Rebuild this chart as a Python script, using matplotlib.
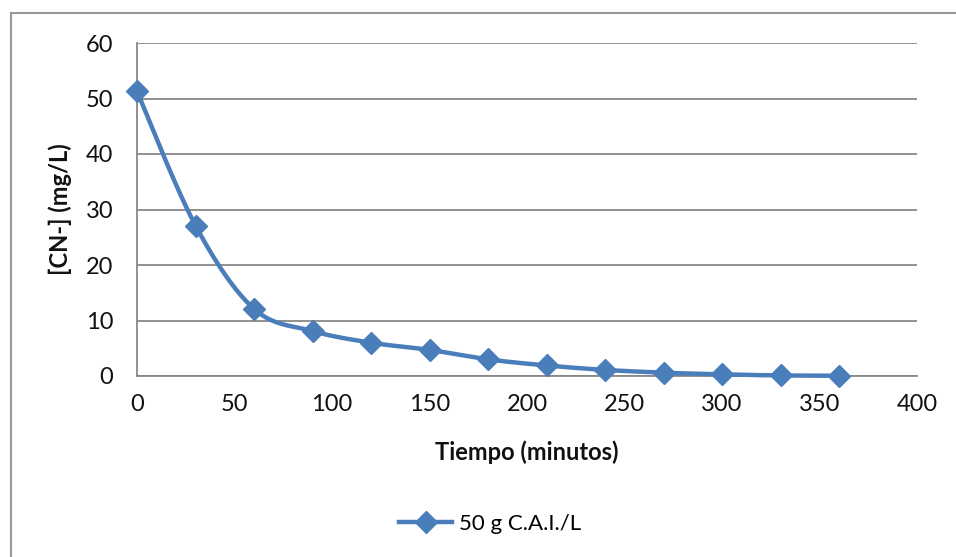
import numpy as np
import matplotlib.pyplot as plt
from matplotlib.lines import Line2D

plt.rcParams['font.family'] = ['Lato', 'DejaVu Sans']

tiempo = [0, 30, 60, 90, 120, 150, 180, 210, 240, 270, 300, 330, 360]
cn = [51.3, 27.1, 12.1, 8.1, 6.0, 4.7, 3.0, 1.9, 1.1, 0.6, 0.3, 0.1, 0.05]
serie = '50 g C.A.I./L'
color = '#4a7ebb'
grid_color = '#888888'
text_color = '#111111'


def smooth(x, y, n=30):
    # Excel-style smoothed line: Catmull-Rom bezier between points
    p = np.column_stack([x, y]).astype(float)
    p = np.vstack([p[0], p, p[-1]])
    out = []
    t = np.linspace(0, 1, n)[:, None]
    for i in range(1, len(p) - 2):
        p0, p1, p2, p3 = p[i - 1], p[i], p[i + 1], p[i + 2]
        c1 = p1 + (p2 - p0) / 6
        c2 = p2 - (p3 - p1) / 6
        seg = ((1 - t) ** 3) * p1 + 3 * ((1 - t) ** 2) * t * c1 + 3 * (1 - t) * t ** 2 * c2 + t ** 3 * p2
        out.append(seg)
    out = np.vstack(out)
    return out[:, 0], out[:, 1]


fig = plt.figure(figsize=(9.56, 5.57), dpi=100)
ax = fig.add_axes([137 / 956, 1 - 376 / 557, (917 - 137) / 956, (376 - 43) / 557])

sx, sy = smooth(tiempo, cn)
ax.plot(sx, sy, color=color, lw=3.2, solid_capstyle='round', zorder=3, clip_on=False)
ax.plot(tiempo, cn, linestyle='none', marker='D', markersize=11, color=color, zorder=4, clip_on=False)

ax.set_xlim(0, 400)
ax.set_ylim(0, 60)
ax.set_xticks(range(0, 401, 50))
ax.set_yticks(range(0, 61, 10))
ax.tick_params(length=0, labelsize=17, colors=text_color)
ax.tick_params(axis='y', pad=17)
ax.tick_params(axis='x', pad=13)
ax.yaxis.grid(True, color=grid_color, lw=1.3)
ax.set_axisbelow(True)
for s in ['top', 'right']:
    ax.spines[s].set_visible(False)
ax.spines['left'].set_color(grid_color)
ax.spines['left'].set_linewidth(1.3)
ax.spines['bottom'].set_color(grid_color)
ax.spines['bottom'].set_linewidth(1.3)

ax.set_xlabel('Tiempo (minutos)', fontsize=17, fontweight='bold', color=text_color, labelpad=18)
ax.set_ylabel('[CN-] (mg/L)', fontsize=17, fontweight='bold', color=text_color, labelpad=10)

handle = Line2D([], [], color=color, lw=3.2, marker='D', markersize=11)
fig.legend([handle], [serie], loc='center', bbox_to_anchor=(490 / 956, 1 - 524 / 557),
           frameon=False, fontsize=16, handlelength=2.4, handletextpad=0.3)

# chart area border
fig.add_artist(Line2D([11 / 956, 11 / 956], [0, 1 - 13 / 557], color='#999999', lw=1.5))
fig.add_artist(Line2D([11 / 956, 1], [1 - 13 / 557, 1 - 13 / 557], color='#999999', lw=1.5))

fig.savefig('out.png', dpi=100)
